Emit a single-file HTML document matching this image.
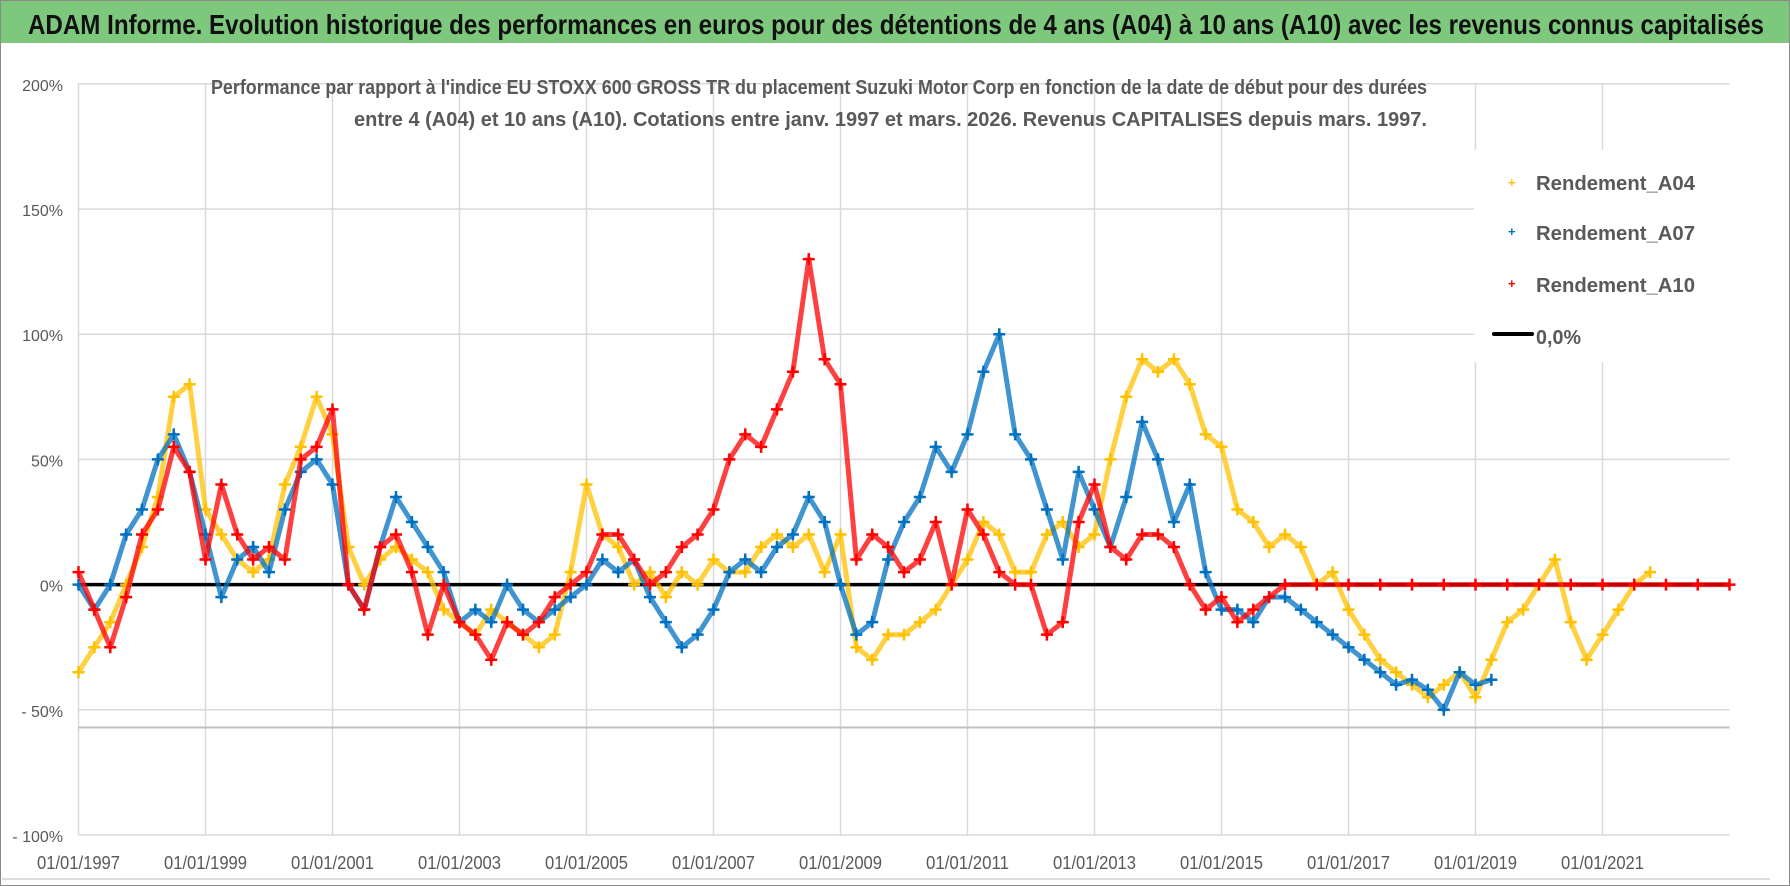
<!DOCTYPE html>
<html><head><meta charset="utf-8"><style>
html,body{margin:0;padding:0;background:#fff;}
svg{display:block;font-family:"Liberation Sans",sans-serif;}
</style></head><body>
<svg id="chart" width="1790" height="886" viewBox="0 0 1790 886" xmlns="http://www.w3.org/2000/svg">
<rect x="0" y="0" width="1790" height="886" fill="#fff"/>
<rect x="1" y="1" width="1788" height="42" fill="#7dc87d"/>
<rect x="0.5" y="0.5" width="1789" height="885" fill="none" stroke="#8a8a8a" stroke-width="1"/>
<line x1="2" y1="879" x2="1770" y2="879" stroke="#d0d0d0" stroke-width="1.5"/>
<text x="28" y="34" font-size="28" font-weight="bold" fill="#111" textLength="1736" lengthAdjust="spacingAndGlyphs">ADAM Informe. Evolution historique des performances en euros pour des détentions de 4 ans (A04) à 10 ans (A10) avec les revenus connus capitalisés</text>
<g id="grid"></g>
<g id="marks"></g>
<rect x="1474" y="150" width="258" height="212" fill="#fff"/>
<text x="211" y="94" font-size="20" font-weight="bold" fill="#595959" textLength="1216" lengthAdjust="spacingAndGlyphs">Performance par rapport à l'indice EU STOXX 600 GROSS TR  du placement Suzuki Motor Corp en fonction de la date de début pour des durées</text>
<text x="354" y="126" font-size="20" font-weight="bold" fill="#595959" textLength="1073" lengthAdjust="spacingAndGlyphs">entre 4 (A04) et 10 ans (A10).  Cotations entre janv. 1997 et mars. 2026.  Revenus CAPITALISES depuis mars. 1997.</text>
<g>
 <g><text x="1508" y="187" font-size="13" fill="#ffc000" font-weight="bold">+</text><text x="1536" y="190" font-size="20" font-weight="bold" fill="#595959" textLength="159" lengthAdjust="spacingAndGlyphs">Rendement_A04</text></g>
 <g><text x="1508" y="236" font-size="13" fill="#0070c0" font-weight="bold">+</text><text x="1536" y="240" font-size="20" font-weight="bold" fill="#595959" textLength="159" lengthAdjust="spacingAndGlyphs">Rendement_A07</text></g>
 <g><text x="1508" y="288" font-size="13" fill="#ff0000" font-weight="bold">+</text><text x="1536" y="292" font-size="20" font-weight="bold" fill="#595959" textLength="159" lengthAdjust="spacingAndGlyphs">Rendement_A10</text></g>
 <g><line x1="1494" y1="334" x2="1532" y2="334" stroke="#000" stroke-width="4" stroke-linecap="round"/><text x="1536" y="344" font-size="20" font-weight="bold" fill="#595959" textLength="45" lengthAdjust="spacingAndGlyphs">0,0%</text></g>
</g>
</svg>
<script>
const yTicks=[200,150,100,50,0,-50,-100];
const yTickLabels=["200%","150%","100%","50%","0%","- 50%","- 100%"];
const xTicks=[1997,1999,2001,2003,2005,2007,2009,2011,2013,2015,2017,2019,2021];
const xTickLabels=["01/01/1997","01/01/1999","01/01/2001","01/01/2003","01/01/2005","01/01/2007","01/01/2009","01/01/2011","01/01/2013","01/01/2015","01/01/2017","01/01/2019","01/01/2021"];
const a04Dates=[1997,1997.25,1997.5,1997.75,1998,1998.25,1998.5,1998.75,1999,1999.25,1999.5,1999.75,2000,2000.25,2000.5,2000.75,2001,2001.25,2001.5,2001.75,2002,2002.25,2002.5,2002.75,2003,2003.25,2003.5,2003.75,2004,2004.25,2004.5,2004.75,2005,2005.25,2005.5,2005.75,2006,2006.25,2006.5,2006.75,2007,2007.25,2007.5,2007.75,2008,2008.25,2008.5,2008.75,2009,2009.25,2009.5,2009.75,2010,2010.25,2010.5,2010.75,2011,2011.25,2011.5,2011.75,2012,2012.25,2012.5,2012.75,2013,2013.25,2013.5,2013.75,2014,2014.25,2014.5,2014.75,2015,2015.25,2015.5,2015.75,2016,2016.25,2016.5,2016.75,2017,2017.25,2017.5,2017.75,2018,2018.25,2018.5,2018.75,2019,2019.25,2019.5,2019.75,2020,2020.25,2020.5,2020.75,2021,2021.25,2021.5,2021.75];
const a04Values=[-35,-25,-15,0,15,35,75,80,30,20,10,5,10,40,55,75,60,15,0,10,15,10,5,-10,-15,-20,-10,-15,-20,-25,-20,5,40,20,15,0,5,-5,5,0,10,5,5,15,20,15,20,5,20,-25,-30,-20,-20,-15,-10,0,10,25,20,5,5,20,25,15,20,50,75,90,85,90,80,60,55,30,25,15,20,15,0,5,-10,-20,-30,-35,-40,-45,-40,-35,-45,-30,-15,-10,0,10,-15,-30,-20,-10,0,5];
const a07Dates=[1997,1997.25,1997.5,1997.75,1998,1998.25,1998.5,1998.75,1999,1999.25,1999.5,1999.75,2000,2000.25,2000.5,2000.75,2001,2001.25,2001.5,2001.75,2002,2002.25,2002.5,2002.75,2003,2003.25,2003.5,2003.75,2004,2004.25,2004.5,2004.75,2005,2005.25,2005.5,2005.75,2006,2006.25,2006.5,2006.75,2007,2007.25,2007.5,2007.75,2008,2008.25,2008.5,2008.75,2009,2009.25,2009.5,2009.75,2010,2010.25,2010.5,2010.75,2011,2011.25,2011.5,2011.75,2012,2012.25,2012.5,2012.75,2013,2013.25,2013.5,2013.75,2014,2014.25,2014.5,2014.75,2015,2015.25,2015.5,2015.75,2016,2016.25,2016.5,2016.75,2017,2017.25,2017.5,2017.75,2018,2018.25,2018.5,2018.75,2019,2019.25];
const a07Values=[0,-10,0,20,30,50,60,45,20,-5,10,15,5,30,45,50,40,0,-10,15,35,25,15,5,-15,-10,-15,0,-10,-15,-10,-5,0,10,5,10,-5,-15,-25,-20,-10,5,10,5,15,20,35,25,0,-20,-15,10,25,35,55,45,60,85,100,60,50,30,10,45,30,15,35,65,50,25,40,5,-10,-10,-15,-5,-5,-10,-15,-20,-25,-30,-35,-40,-38,-42,-50,-35,-40,-38];
const a10Dates=[1997,1997.25,1997.5,1997.75,1998,1998.25,1998.5,1998.75,1999,1999.25,1999.5,1999.75,2000,2000.25,2000.5,2000.75,2001,2001.25,2001.5,2001.75,2002,2002.25,2002.5,2002.75,2003,2003.25,2003.5,2003.75,2004,2004.25,2004.5,2004.75,2005,2005.25,2005.5,2005.75,2006,2006.25,2006.5,2006.75,2007,2007.25,2007.5,2007.75,2008,2008.25,2008.5,2008.75,2009,2009.25,2009.5,2009.75,2010,2010.25,2010.5,2010.75,2011,2011.25,2011.5,2011.75,2012,2012.25,2012.5,2012.75,2013,2013.25,2013.5,2013.75,2014,2014.25,2014.5,2014.75,2015,2015.25,2015.5,2015.75,2016,2016.5,2017,2017.5,2018,2018.5,2019,2019.5,2020,2020.5,2021,2021.5,2022,2022.5,2023];
const a10Values=[5,-10,-25,-5,20,30,55,45,10,40,20,10,15,10,50,55,70,0,-10,15,20,5,-20,0,-15,-20,-30,-15,-20,-15,-5,0,5,20,20,10,0,5,15,20,30,50,60,55,70,85,130,90,80,10,20,15,5,10,25,0,30,20,5,0,0,-20,-15,25,40,15,10,20,20,15,0,-10,-5,-15,-10,-5,0,0,0,0,0,0,0,0,0,0,0,0,0,0,0];
const X0=78.5, PX_PER_YEAR=63.5, Y0=584.6, PX_PER_PCT=2.504;
function xs(d){return X0+(d-1997)*PX_PER_YEAR;}
function ys(v){return Y0-v*PX_PER_PCT;}
const NS="http://www.w3.org/2000/svg";
const grid=document.getElementById('grid'), marks=document.getElementById('marks');
const XR=1729.6;
function mk(tag,attrs,parent){const e=document.createElementNS(NS,tag);for(const k in attrs)e.setAttribute(k,attrs[k]);parent.appendChild(e);return e;}
yTicks.forEach((t,i)=>{
 const l=mk('line',{x1:X0,x2:XR,y1:ys(t),y2:ys(t),stroke:'#d9d9d9','stroke-width':1.5},grid);
 
 
 const tx=mk('text',{x:63,y:ys(t)+7,'text-anchor':'end','font-size':16,fill:'#595959'},grid);
 tx.textContent=yTickLabels[i];
 
 
});
xTicks.forEach((t,i)=>{
 const l=mk('line',{x1:xs(t),x2:xs(t),y1:ys(200),y2:ys(-100),stroke:'#d9d9d9','stroke-width':1.5},grid);
 
 
 const tx=mk('text',{x:xs(t),y:869,'text-anchor':'middle','font-size':18,fill:'#595959',textLength:83,lengthAdjust:'spacingAndGlyphs'},grid);
 tx.textContent=xTickLabels[i];
 
 
});
const ax=mk('line',{x1:X0,x2:XR,y1:727.5,y2:727.5,stroke:'#bfbfbf','stroke-width':2},grid);


const zero=mk('line',{x1:X0,x2:XR,y1:ys(0),y2:ys(0),stroke:'#000','stroke-width':3.5},marks);


function series(dates,vals,color,name){
 const g=mk('g',{},marks);
 
 
 const pts=dates.map((d,i)=>xs(d).toFixed(1)+','+ys(vals[i]).toFixed(1)).join(' ');
 const pl=mk('polyline',{points:pts,fill:'none',stroke:color,'stroke-width':5,'stroke-linejoin':'round','stroke-opacity':0.75},g);
 
 
 dates.forEach((d,i)=>{
  const x=xs(d),y=ys(vals[i]);
  const p=mk('path',{d:`M${x-6},${y}H${x+6}M${x},${y-6}V${y+6}`,stroke:color,'stroke-width':2.5},g);
  
  
 });
}
series(a04Dates,a04Values,'#ffc000','series-a04');
series(a07Dates,a07Values,'#0070c0','series-a07');
series(a10Dates,a10Values,'#ff0000','series-a10');
</script>
</body></html>
